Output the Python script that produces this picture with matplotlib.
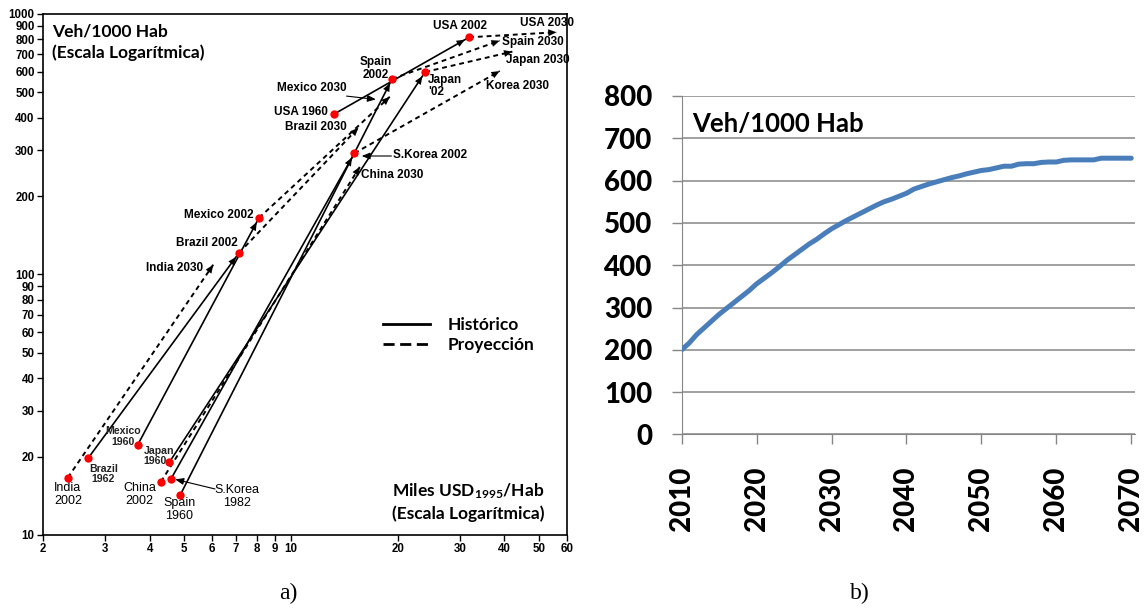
import matplotlib.pyplot as plt
from matplotlib.lines import Line2D
from matplotlib.ticker import NullLocator

plt.rcParams['mathtext.default'] = 'regular'

# a) GDP per capita (miles USD 1995) vs vehicles per 1000 inhabitants
hist_gdp_start = [2.68, 3.70, 4.54, 4.59, 4.87, 13.2]     # Brazil 1962, Mexico 1960, Japan 1960, S.Korea 1982, Spain 1960, USA 1960
hist_veh_start = [19.7, 22.2, 19.0, 16.4, 14.2, 412]
hist_gdp_end = [7.14, 8.13, 23.9, 15.1, 19.3, 31.8]       # same countries in 2002
hist_veh_end = [121, 165, 599, 292, 564, 814]

proj_gdp_2002 = [2.35, 7.14, 8.13, 4.30, 15.1, 23.9, 19.3, 31.8]   # India, Brazil, Mexico, China, Korea, Japan, Spain, USA
proj_veh_2002 = [16.6, 121, 165, 16.0, 292, 599, 564, 814]
proj_gdp_2030 = [6.04, 15.5, 19.0, 15.65, 38.8, 42.1, 38.8, 56.1]
proj_veh_2030 = [109, 366, 481, 259, 604, 717, 790, 851]

x_ticks = [2, 3, 4, 5, 6, 7, 8, 9, 10, 20, 30, 40, 50, 60]
y_ticks = [10, 20, 30, 40, 50, 60, 70, 80, 90, 100, 200, 300, 400, 500, 600, 700, 800, 900, 1000]

# b) projection of vehicles per 1000 inhabitants
years = list(range(2010, 2071))
veh = [200, 216, 236, 252, 268, 284, 298, 312, 326, 340,
       356, 369, 382, 396, 411, 424, 437, 450, 461, 474,
       486, 496, 506, 515, 524, 533, 542, 550, 556, 563,
       570, 580, 586, 592, 597, 602, 607, 611, 616, 620,
       624, 626, 630, 634, 634, 639, 640, 640, 643, 644,
       644, 648, 649, 649, 649, 649, 653, 653, 653, 653, 653]

fig = plt.figure(figsize=(11.46, 6.11), dpi=100)

# ---------- panel a ----------
ax = fig.add_axes([0.0375, 0.1244, 0.4572, 0.8527])
ax.set_xscale('log')
ax.set_yscale('log')
ax.set_xlim(2, 60)
ax.set_ylim(10, 1000)
ax.set_xticks(x_ticks)
ax.set_xticklabels([str(v) for v in x_ticks])
ax.set_yticks(y_ticks)
ax.set_yticklabels([str(v) for v in y_ticks])
ax.xaxis.set_minor_locator(NullLocator())
ax.yaxis.set_minor_locator(NullLocator())
ax.tick_params(length=4, width=1, pad=2)
for lab in ax.get_xticklabels() + ax.get_yticklabels():
    lab.set_fontfamily('Liberation Sans')
    lab.set_fontweight('bold')
    lab.set_fontsize(8.3)
for s in ax.spines.values():
    s.set_linewidth(1.2)

head = '-|>,head_length=0.6,head_width=0.25'

# historical: solid arrows
for x0, y0, x1, y1 in zip(hist_gdp_start, hist_veh_start, hist_gdp_end, hist_veh_end):
    ax.plot([x0, x1], [y0, y1], color='black', lw=1.2)
    ax.annotate('', xy=(x1, y1), xytext=(x0, y0),
                arrowprops=dict(arrowstyle=head, lw=0, facecolor='black', edgecolor='none',
                                shrinkA=0, shrinkB=3.5, mutation_scale=10))

# projections: dashed arrows
for x0, y0, x1, y1 in zip(proj_gdp_2002, proj_veh_2002, proj_gdp_2030, proj_veh_2030):
    ax.plot([x0, x1], [y0, y1], color='black', lw=1.4, ls=(0, (2.5, 2)))
    ax.annotate('', xy=(x1, y1), xytext=(x0, y0),
                arrowprops=dict(arrowstyle=head, lw=0, facecolor='black', edgecolor='none',
                                shrinkA=0, shrinkB=0, mutation_scale=10))

ax.plot(hist_gdp_start + proj_gdp_2002, hist_veh_start + proj_veh_2002, 'o',
        color='red', ms=6, mec='none', zorder=5)

lab_kw = dict(fontfamily='Liberation Sans', fontweight='bold', fontsize=8.5, va='center')
ax.text(29.9, 902, 'USA 2002', ha='center', **lab_kw)
ax.text(52.6, 921, 'USA 2030', ha='center', **lab_kw)
ax.text(48.2, 783, 'Spain 2030', ha='center', **lab_kw)
ax.text(49.8, 666, 'Japan 2030', ha='center', **lab_kw)
ax.text(43.4, 529, 'Korea 2030', ha='center', **lab_kw)
ax.text(17.4, 619, 'Spain\n2002', ha='center', linespacing=1.1, **lab_kw)
ax.text(24.4, 529, "Japan\n'02", ha='left', linespacing=1.1, **lab_kw)
ax.text(14.35, 519, 'Mexico 2030', ha='right', **lab_kw)
ax.text(12.7, 421, 'USA 1960', ha='right', **lab_kw)
ax.text(14.35, 367, 'Brazil 2030', ha='right', **lab_kw)
ax.text(19.4, 287, 'S.Korea 2002', ha='left', **lab_kw)
ax.text(15.76, 240, 'China 2030', ha='left', **lab_kw)
ax.text(7.86, 169, 'Mexico 2002', ha='right', **lab_kw)
ax.text(7.06, 132, 'Brazil 2002', ha='right', **lab_kw)
ax.text(5.66, 106, 'India 2030', ha='right', **lab_kw)

small_kw = dict(fontfamily='Liberation Sans', fontweight='bold', fontsize=7.6,
                va='center', ha='center', linespacing=1.1, color='#222222')
ax.text(3.36, 23.8, 'Mexico\n1960', **small_kw)
ax.text(3.85, 20.1, 'Japan\n1960', multialignment='left', **dict(small_kw, ha='left'))
ax.text(2.96, 17.15, 'Brazil\n1962', **small_kw)

low_kw = dict(fontfamily='Liberation Sans', fontsize=9, va='center', ha='center', linespacing=1.1)
ax.text(2.35, 14.28, 'India\n2002', **low_kw)
ax.text(3.75, 14.3, 'China\n2002', **low_kw)
ax.text(4.84, 12.5, 'Spain\n1960', **low_kw)
ax.text(7.06, 14.05, 'S.Korea\n1982', **low_kw)

thin = dict(arrowstyle='-|>,head_length=0.5,head_width=0.2', color='black', lw=0.8,
            shrinkA=0, shrinkB=0, mutation_scale=10)
ax.annotate('', xy=(17.36, 470), xytext=(14.35, 484), arrowprops=thin)
ax.annotate('', xy=(15.83, 285), xytext=(19.2, 285), arrowprops=thin)
ax.annotate('', xy=(4.72, 16.35), xytext=(6.11, 15.02), arrowprops=thin)

ax.text(0.0166, 0.946, 'Veh/1000 Hab\n(Escala Logarítmica)', transform=ax.transAxes,
        fontfamily='Lato', fontweight='bold', fontsize=12.5, va='center', ha='left', linespacing=1.35)
ax.text(0.666, 0.064, 'Miles USD$_{1995}$/Hab\n(Escala Logarítmica)', transform=ax.transAxes,
        fontfamily='Lato', fontweight='bold', fontsize=12.5, va='center', ha='left', linespacing=1.35)

handles = [Line2D([], [], color='black', lw=2),
           Line2D([], [], color='black', lw=2, ls=(0, (4, 2)))]
ax.legend(handles, ['Histórico', 'Proyección'], loc='center left', bbox_to_anchor=(0.649, 0.384),
          frameon=False, handlelength=2.7, handletextpad=1.05, labelspacing=0.25,
          borderpad=0, borderaxespad=0, prop={'family': 'Lato', 'weight': 'bold', 'size': 12.5})

# ---------- panel b ----------
ax2 = fig.add_axes([0.5948, 0.2889, 0.3956, 0.554])
ax2.plot(years, veh, color='#4A7EBB', lw=3.6, solid_capstyle='round', zorder=3)
ax2.set_xlim(2010, 2070.5)
ax2.set_ylim(0, 800)
ax2.set_yticks(range(0, 801, 100))
ax2.set_xticks(range(2010, 2071, 10))
ax2.grid(axis='y', color='#868686', lw=1.1)
ax2.spines['top'].set_visible(False)
ax2.spines['right'].set_visible(False)
ax2.spines['left'].set_color('#868686')
ax2.spines['bottom'].set_color('#868686')
ax2.tick_params(axis='both', length=7, width=1, color='#868686')
ax2.tick_params(axis='y', pad=14)
ax2.tick_params(axis='x', pad=16)
for lab in ax2.get_yticklabels() + ax2.get_xticklabels():
    lab.set_fontfamily('Lato')
    lab.set_fontweight('black')
    lab.set_fontsize(20)
for lab in ax2.get_xticklabels():
    lab.set_rotation(90)
ax2.text(0.023, 0.917, 'Veh/1000 Hab', transform=ax2.transAxes, fontfamily='Lato',
         fontweight='bold', fontsize=18.5, va='center', ha='left')

fig.text(0.2513, 0.0295, 'a)', fontfamily='Liberation Serif', fontsize=17, ha='center', va='center')
fig.text(0.7504, 0.0295, 'b)', fontfamily='Liberation Serif', fontsize=17, ha='center', va='center')

fig.savefig('out.png', dpi=100)
